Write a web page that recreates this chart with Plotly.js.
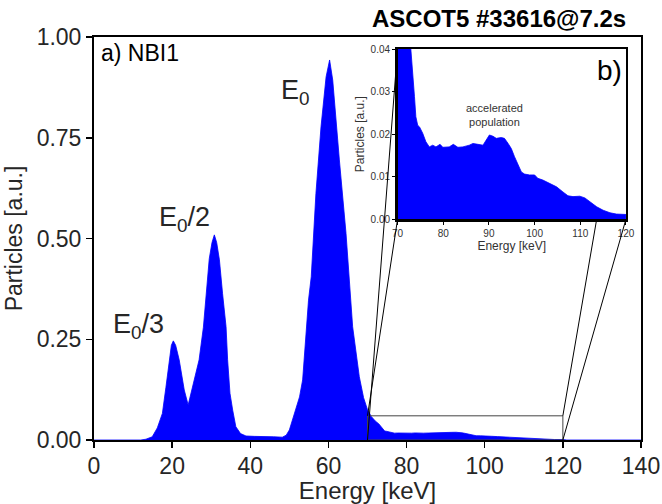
<!DOCTYPE html>
<html>
<head>
<meta charset="utf-8">
<script src="https://cdn.plot.ly/plotly-3.0.1.min.js"></script>
<style>html,body{margin:0;padding:0;background:#fff}#plot{width:662px;height:504px}</style>
</head>
<body>
<div id="plot"></div>
<script>
// Energy grid [keV] and particle distribution [a.u.]
const energy = [0, 12, 13.3, 14.9, 16.2, 17.5, 18.4, 19.2, 19.8, 20.3, 20.9, 21.8, 23.1, 24.1, 25.2, 26.9, 28.0, 28.8, 29.5, 30.2, 30.8, 31.4, 32.1, 32.9, 33.8, 34.2, 34.8, 35.5, 36.3, 37.5, 38.9, 41, 44, 46, 48.2, 49.2, 50, 50.8, 52.6, 53.4, 54.9, 55.6, 56.8, 58.1, 59.4, 60.3, 61.1, 62.8, 64.5, 66.2, 67.9, 69.0, 70, 71, 72, 72.9,
  73.3, 73.7, 74.0, 74.4, 74.8, 75.5, 76.2, 76.95, 77.7, 78.4, 79.3, 79.9, 81.3, 82.2, 83.2, 84.3, 85.7, 86.5, 87.6, 88.7, 89.4, 90.1, 90.9, 91.6, 92.7, 93.4, 94.2, 94.9, 95.6, 96.4, 97.1, 97.8, 98.9, 100.0, 100.7, 101.8, 103.3, 104.8, 106.2, 107.3, 108.4, 109.9, 111.0, 112.1, 113.6, 115.0, 116.5, 117.9, 120, 121, 140];
const particles = [0, 0, 0.002, 0.008, 0.03, 0.066, 0.13, 0.199, 0.235, 0.246, 0.235, 0.199, 0.124, 0.087, 0.13, 0.199, 0.28, 0.38, 0.45, 0.49, 0.509, 0.49, 0.447, 0.364, 0.281, 0.199, 0.116, 0.074, 0.033, 0.016, 0.01, 0.009, 0.009, 0.008, 0.007, 0.012, 0.025, 0.05, 0.107, 0.149, 0.347, 0.405, 0.612, 0.777, 0.901, 0.943, 0.893, 0.695, 0.513, 0.281, 0.157, 0.105, 0.075, 0.058, 0.047, 0.040,
  0.0351, 0.0288, 0.0241, 0.0221, 0.0217, 0.0202, 0.0182, 0.0170, 0.0174, 0.0170, 0.0176, 0.0169, 0.0170, 0.0176, 0.0169, 0.0170, 0.0174, 0.0178, 0.0176, 0.0174, 0.0186, 0.0198, 0.0195, 0.0190, 0.0192, 0.0190, 0.0178, 0.0166, 0.0147, 0.0127, 0.0111, 0.0106, 0.0104, 0.0104, 0.0096, 0.0092, 0.0084, 0.0076, 0.0064, 0.0055, 0.0053, 0.0054, 0.0050, 0.0041, 0.0029, 0.0021, 0.0015, 0.0012, 0.0011, 0, 0];

const mainXTicks = [0, 20, 40, 60, 80, 100, 120, 140];
const mainYTicks = [0, 0.25, 0.5, 0.75, 1.0];
const insetXTicks = [70, 80, 90, 100, 110, 120];
const insetYTicks = [0, 0.01, 0.02, 0.03, 0.04];

const mainXRange = [0, 140], mainYRange = [0, 1];
const insetXRange = [70, 120], insetYRange = [0, 0.04];
const zoomBox = {x0: 70, x1: 120, y0: 0, y1: 0.06};
const insetDomX = [0.555, 0.9725], insetDomY = [0.548, 0.970];

const FONT = 'Liberation Sans, Arial, Helvetica, sans-serif';
const TXT = '#262626';

function px(x) { return (x - mainXRange[0]) / (mainXRange[1] - mainXRange[0]); }
function py(y) { return (y - mainYRange[0]) / (mainYRange[1] - mainYRange[0]); }
function line(x0, y0, x1, y1) {
  return {type: 'line', xref: 'paper', yref: 'paper', x0, y0, x1, y1, layer: 'above',
          line: {color: '#000', width: 1}};
}
// clip a segment at the inset's bottom edge (it passes behind the inset)
function clipped(x0, y0, x1, y1) {
  const t = (insetDomY[0] - y0) / (y1 - y0);
  return line(x0, y0, x0 + t * (x1 - x0), insetDomY[0]);
}

const fillStyle = {mode: 'lines', fill: 'tozeroy', line: {color: '#0000ff', width: 0.8}, fillcolor: '#0000ff', hoverinfo: 'skip', showlegend: false};

const traces = [
  Object.assign({x: energy, y: particles, xaxis: 'x', yaxis: 'y'}, fillStyle),
  Object.assign({x: energy, y: particles, xaxis: 'x2', yaxis: 'y2'}, fillStyle)
];

const axBase = {showgrid: false, zeroline: false, showline: true, linecolor: '#000', mirror: true, ticks: 'outside', tickcolor: '#000'};

const layout = {
  width: 662, height: 504,
  margin: {l: 94, r: 21, t: 37, b: 64},
  paper_bgcolor: '#fff', plot_bgcolor: '#fff',
  font: {family: FONT, color: TXT},
  showlegend: false,
  xaxis: Object.assign({}, axBase, {range: mainXRange, domain: [0, 1], tickvals: mainXTicks, ticklen: 6, tickwidth: 1.5, linewidth: 2, ticklabelstandoff: -2,
    tickfont: {size: 23, color: TXT}, title: {text: 'Energy [keV]', font: {size: 24, color: TXT}, standoff: 0}}),
  yaxis: Object.assign({}, axBase, {range: mainYRange, domain: [0, 1], tickvals: mainYTicks, tickformat: '.2f', ticklen: 6, tickwidth: 1.5, linewidth: 2,
    tickfont: {size: 23, color: TXT}, title: {text: 'Particles [a.u.]', font: {size: 23, color: TXT}, standoff: 8}}),
  xaxis2: Object.assign({}, axBase, {anchor: 'y2', range: insetXRange, domain: insetDomX, tickvals: insetXTicks, ticklen: 3, tickwidth: 1, linewidth: 2.5,
    tickfont: {size: 10, color: '#333'}, title: {text: 'Energy [keV]', font: {size: 12, color: '#333'}, standoff: 0}}),
  yaxis2: Object.assign({}, axBase, {anchor: 'x2', range: insetYRange, domain: insetDomY, tickvals: insetYTicks, tickformat: '.2f', ticklen: 3, tickwidth: 1, linewidth: 2.5,
    tickfont: {size: 10, color: '#333'}, title: {text: 'Particles [a.u.]', font: {size: 12, color: '#333'}, standoff: 4}}),
  shapes: [
    {type: 'rect', xref: 'x', yref: 'y', x0: zoomBox.x0, x1: zoomBox.x1, y0: zoomBox.y0, y1: zoomBox.y1, layer: 'above', line: {color: '#444', width: 1}},
    line(px(zoomBox.x0), py(zoomBox.y0), insetDomX[0], insetDomY[1]),
    line(px(zoomBox.x0), py(zoomBox.y1), insetDomX[0], insetDomY[0]),
    clipped(px(zoomBox.x1), py(zoomBox.y1), insetDomX[1], insetDomY[1]),
    line(px(zoomBox.x1), py(zoomBox.y0), insetDomX[1], insetDomY[0])
  ],
  annotations: [
    {text: '<b>ASCOT5 #33616@7.2s</b>', xref: 'paper', yref: 'paper', x: 0.976, y: 1.047, xanchor: 'right', yanchor: 'middle', showarrow: false, font: {size: 24, color: '#000'}},
    {text: 'a) NBI1', xref: 'paper', yref: 'paper', x: 0.009, y: 0.96, xanchor: 'left', yanchor: 'middle', showarrow: false, font: {size: 23, color: '#000'}},
    {text: 'E<sub>0</sub>', xref: 'x', yref: 'y', x: 51.5, y: 0.864, xanchor: 'center', yanchor: 'middle', showarrow: false, font: {size: 27, color: TXT}},
    {text: 'E<sub>0</sub>/2', xref: 'x', yref: 'y', x: 23.1, y: 0.548, xanchor: 'center', yanchor: 'middle', showarrow: false, font: {size: 27, color: TXT}},
    {text: 'E<sub>0</sub>/3', xref: 'x', yref: 'y', x: 11.5, y: 0.282, xanchor: 'center', yanchor: 'middle', showarrow: false, font: {size: 27, color: TXT}},
    {text: 'b)', xref: 'x2', yref: 'y2', x: 116.3, y: 0.035, xanchor: 'center', yanchor: 'middle', showarrow: false, font: {size: 28, color: '#000'}},
    {text: 'accelerated<br>population', xref: 'x2', yref: 'y2', x: 91.3, y: 0.0246, xanchor: 'center', yanchor: 'middle', showarrow: false, font: {size: 11, color: '#333'}}
  ]
};

Plotly.newPlot('plot', traces, layout, {staticPlot: true, displayModeBar: false});
</script>
</body>
</html>
